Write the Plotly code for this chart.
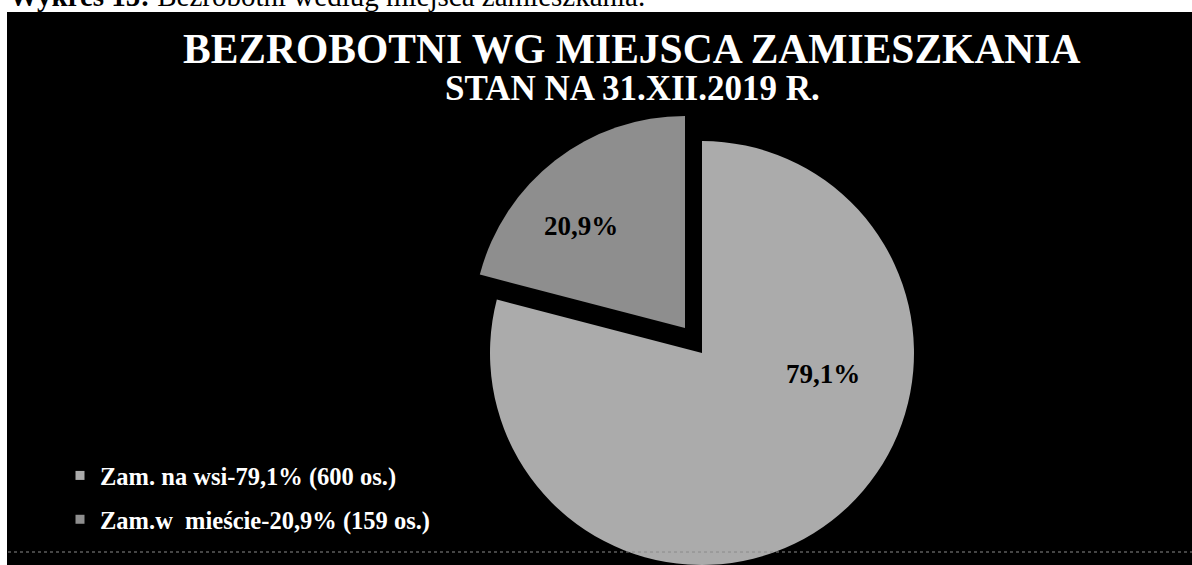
import plotly.graph_objects as go

# ---- data ----
categories = ["Zam. na wsi", "Zam.w\u00a0 mieście"]
counts = [600, 159]
slice_colors = ["#ababab", "#8e8e8e"]
title_text = "BEZROBOTNI WG MIEJSCA ZAMIESZKANIA"
subtitle_text = "STAN NA 31.XII.2019 R."
caption_bold = "Wykres 15:"
caption_text = "Bezrobotni według miejsca zamieszkania."

# ---- geometry / style ----
W, H = 1192, 565
FONT = "Liberation Serif"
total = sum(counts)
pcts = [c / total * 100 for c in counts]


def fmt(p):
    return f"{p:.1f}".replace(".", ",") + "%"


legend_names = [f"{c}-{fmt(p)} ({n} os.)" for c, p, n in zip(categories, pcts, counts)]


def px_domain(cx, cy, r):
    return dict(
        x=[max(0.0, (cx - r) / W), min(1.0, (cx + r) / W)],
        y=[max(0.0, (H - cy - r) / H), min(1.0, (H - cy + r) / H)],
    )


def px(x, y):
    return x / W, (H - y) / H


R = 212
big_center = (702, 353)
small_center = (685, 328)

fig = go.Figure()

# big slice (wieś)
fig.add_trace(go.Pie(
    values=counts, labels=categories, sort=False, direction="clockwise", rotation=0,
    marker=dict(colors=[slice_colors[0], "rgba(0,0,0,0)"], line=dict(width=0)),
    textinfo="none", hoverinfo="skip", showlegend=False,
    domain=px_domain(*big_center, R),
))
# pulled-out small slice (miasto)
fig.add_trace(go.Pie(
    values=counts, labels=categories, sort=False, direction="clockwise", rotation=0,
    marker=dict(colors=["rgba(0,0,0,0)", slice_colors[1]], line=dict(width=0)),
    textinfo="none", hoverinfo="skip", showlegend=False,
    domain=px_domain(*small_center, R),
))

# legend entries
for i, (name, col) in enumerate(zip(legend_names, slice_colors)):
    fig.add_trace(go.Scatter(
        x=[None], y=[None], mode="markers", name=name, legendgroup=str(i),
        marker=dict(symbol="square", size=9, color=col),
    ))

annotations = []
# caption at top (cut off as in the scan)
cx, cy = px(7, 14.5)
annotations.append(dict(
    text=f"<b>{caption_bold}</b> {caption_text}", x=cx, y=cy, xref="paper", yref="paper",
    xanchor="left", yanchor="bottom", showarrow=False,
    font=dict(family=FONT, size=29, color="black"),
))
tx, ty = px(631, 49)
annotations.append(dict(
    text=f"<b>{title_text}</b>", x=tx, y=ty, xref="paper", yref="paper",
    xanchor="center", yanchor="middle", showarrow=False,
    font=dict(family=FONT, size=41.5, color="white"),
))
sx, sy = px(632, 88)
annotations.append(dict(
    text=f"<b>{subtitle_text}</b>", x=sx, y=sy, xref="paper", yref="paper",
    xanchor="center", yanchor="middle", showarrow=False,
    font=dict(family=FONT, size=35, color="white"),
))
label_pos = [(823, 374), (581, 226)]
for p, (lx, ly) in zip(pcts, label_pos):
    ax, ay = px(lx, ly)
    annotations.append(dict(
        text=f"<b>{fmt(p)}</b>", x=ax, y=ay, xref="paper", yref="paper",
        xanchor="center", yanchor="middle", showarrow=False,
        font=dict(family=FONT, size=27, color="black"),
    ))

shapes = [
    dict(type="rect", xref="paper", yref="paper", x0=0, x1=1, y0=(H - 12) / H, y1=1,
         fillcolor="white", line=dict(width=0), layer="above"),
    dict(type="rect", xref="paper", yref="paper", x0=0, x1=7 / W, y0=0, y1=1,
         fillcolor="white", line=dict(width=0), layer="above"),
    dict(type="line", xref="paper", yref="paper", x0=8 / W, x1=1, y0=(H - 552) / H, y1=(H - 552) / H,
         line=dict(color="#8a8a8a", width=1, dash="dot"), layer="above"),
]

lx, ly = px(60, 453)
fig.update_layout(
    width=W, height=H,
    margin=dict(l=0, r=0, t=0, b=0),
    paper_bgcolor="black", plot_bgcolor="rgba(0,0,0,0)",
    xaxis=dict(visible=False), yaxis=dict(visible=False),
    showlegend=True,
    legend=dict(
        x=lx, y=ly, xanchor="left", yanchor="top",
        font=dict(family=FONT, size=24.5, color="white", weight="bold"),
        bgcolor="rgba(0,0,0,0)", traceorder="grouped", tracegroupgap=9,
        itemclick=False, itemdoubleclick=False,
    ),
    annotations=annotations,
    shapes=shapes,
)

fig.write_html("out.html", config={"displayModeBar": False},
               post_script="document.body.style.margin='0';")
